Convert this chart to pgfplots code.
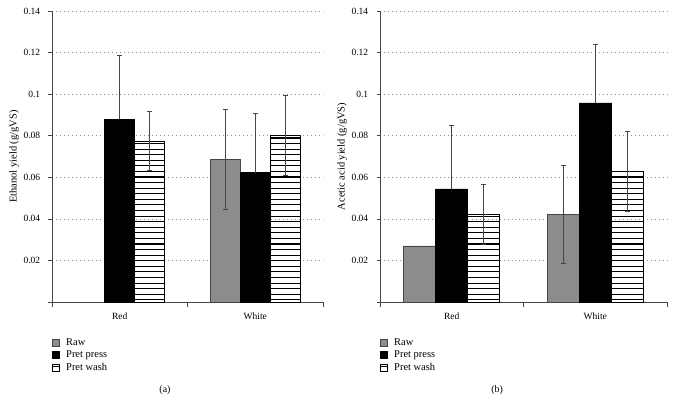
\documentclass[border=0pt]{standalone}
\usepackage{fontspec}
\setmainfont{Liberation Serif}
\usepackage{pgfplots}
\pgfplotsset{compat=1.18}
\usetikzlibrary{patterns}
\pgfdeclarepatternformonly{hstripes}{\pgfpoint{-0.5pt}{0pt}}{\pgfpoint{4.5pt}{5.6pt}}{\pgfpoint{4pt}{5.6pt}}{%
  \pgfsetlinewidth{1.1pt}%
  \pgfpathmoveto{\pgfpoint{-0.5pt}{2.8pt}}%
  \pgfpathlineto{\pgfpoint{4.5pt}{2.8pt}}%
  \pgfusepath{stroke}}
\definecolor{rawgray}{RGB}{140,140,140}
\definecolor{axgray}{RGB}{70,70,70}
\pgfplotsset{
  mybase/.style={
    scale only axis, height=291bp,
    ymin=0, ymax=0.14, xmin=-0.5, xmax=1.5,
    clip=false,
    axis x line*=bottom, axis y line*=left,
    axis line style={draw=axgray, line width=0.6pt, -},
    tick style={draw=axgray, line width=0.6pt},
    tick align=outside,
    major tick length=3.5bp, minor tick length=4.5bp,
    ytick={0,0.02,0.04,0.06,0.08,0.1,0.12,0.14},
    yticklabels={,0.02,0.04,0.06,0.08,0.1,0.12,0.14},
    /pgf/number format/assume math mode=true,
    ymajorgrids,
    major grid style={draw=black!45, line width=0.5pt, dash pattern=on 0.6pt off 3.4pt},
    xtick={0,1}, xticklabels={Red,White},
    major x tick style={draw=none},
    minor xtick={-0.5,0.5,1.5},
    xticklabel style={yshift=-4bp},
    yticklabel style={xshift=-5bp},
    label style={font=\fontsize{10.5}{12}\selectfont},
    ybar,
    legend image code/.code={\draw[#1, line width=0.5pt] (0bp,-3.5bp) rectangle (7bp,3.5bp);},
    legend style={at={(rel axis cs:0,-0.124)}, anchor=north west, draw=none, fill=none,
      inner sep=0pt, row sep=3bp, column sep=6bp, cells={anchor=west},
      nodes={inner sep=0.5bp}, font=\fontsize{10.5}{11.5}\selectfont},
    legend cell align=left,
    error bars/error bar style={draw=axgray, line width=0.6pt},
    error bars/error mark options={rotate=90, mark size=2.6bp, draw=axgray, line width=0.6pt},
  },
  rawst/.style={fill=rawgray, draw=axgray, line width=0.6pt},
  pressst/.style={fill=black, draw=black, line width=0.6pt},
  washst/.style={fill=white, pattern=hstripes, pattern color=black, draw=black, line width=0.6pt},
}
\begin{document}
\fontsize{9.5bp}{11bp}\selectfont
\begin{tikzpicture}
\useasboundingbox (-52bp,-101bp) rectangle (622bp,302bp);
\begin{axis}[mybase, at={(0,0)}, anchor=south west, width=271bp,
  bar width=0.221, ylabel={Ethanol yield (g/gVS)},
  ylabel style={at={(axis description cs:-0.140,0.5)}, anchor=center}]
\addplot[rawst, bar shift=-0.221, error bars/.cd, y dir=both, y explicit]
  coordinates {(1,0.0685) +- (0,0.024)};
\addplot[pressst, bar shift=0, error bars/.cd, y dir=plus, y explicit]
  coordinates {(0,0.088) +- (0,0.0305) (1,0.0623) +- (0,0.0283)};
\addplot[washst, bar shift=0.221, error bars/.cd, y dir=both, y explicit]
  coordinates {(0,0.0775) +- (0,0.0143) (1,0.0801) +- (0,0.0193)};
\legend{Raw, Pret press, Pret wash}
\node[font=\fontsize{10}{11}\selectfont] at (rel axis cs:0.417,-0.302) {(a)};
\end{axis}
\begin{axis}[mybase, at={(328bp,0)}, anchor=south west, width=287bp,
  bar width=0.223, ylabel={Acetic acid yield (g/gVS)},
  ylabel style={at={(axis description cs:-0.132,0.5)}, anchor=center}]
\addplot[rawst, bar shift=-0.223, error bars/.cd, y dir=both, y explicit]
  coordinates {(0,0.0270) +- (0,0) (1,0.0422) +- (0,0.0238)};
\addplot[pressst, bar shift=0, error bars/.cd, y dir=plus, y explicit]
  coordinates {(0,0.0544) +- (0,0.0304) (1,0.0958) +- (0,0.0281)};
\addplot[washst, bar shift=0.223, error bars/.cd, y dir=both, y explicit]
  coordinates {(0,0.0421) +- (0,0.0144) (1,0.0629) +- (0,0.0193)};
\legend{Raw, Pret press, Pret wash}
\node[font=\fontsize{10}{11}\selectfont] at (rel axis cs:0.408,-0.302) {(b)};
\end{axis}
\end{tikzpicture}
\end{document}
